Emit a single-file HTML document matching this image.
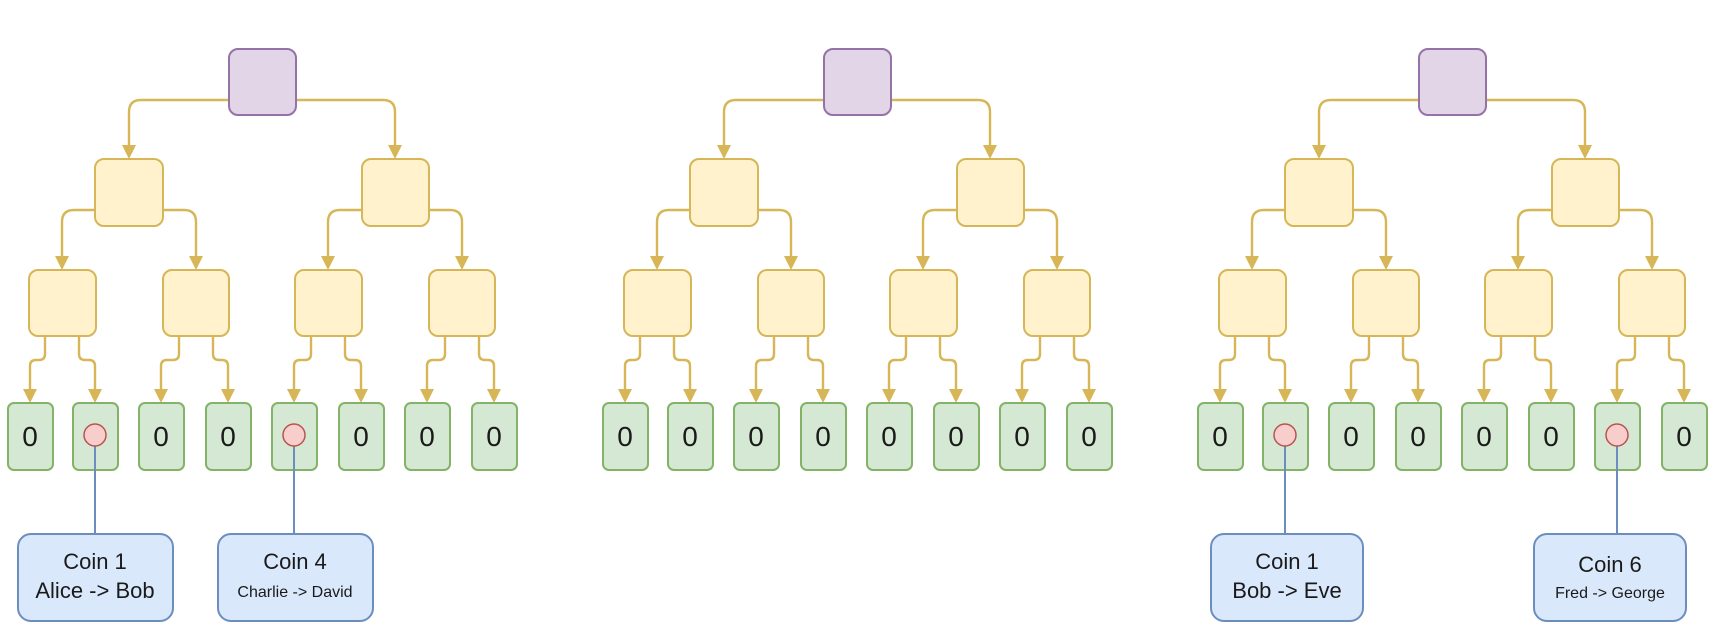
<!DOCTYPE html>
<html><head><meta charset="utf-8"><style>
html,body{margin:0;padding:0;background:#fff;width:1725px;height:643px;overflow:hidden}
text{font-family:"Liberation Sans",sans-serif;fill:#1a1a1a}
</style></head><body>
<svg width="1725" height="643" viewBox="0 0 1725 643" xmlns="http://www.w3.org/2000/svg">
<defs>
<g id="tree">
 <g fill="none" stroke="#d6b656" stroke-width="2.4">
  <path d="M229,100 H141 Q129,100 129,112 V148"/>
  <path d="M296,100 H383 Q395,100 395,112 V148"/>
  <path d="M95,210 H74 Q62,210 62,222 V258"/>
  <path d="M163,210 H184 Q196,210 196,222 V258"/>
  <path d="M362,210 H340 Q328,210 328,222 V258"/>
  <path d="M429,210 H450 Q462,210 462,222 V258"/>
  <path d="M45,336 V354 Q45,360 39,360 H36 Q30,360 30,366 V392"/>
  <path d="M79,336 V354 Q79,360 85,360 H89 Q95,360 95,366 V392"/>
  <path d="M179,336 V354 Q179,360 173,360 H167 Q161,360 161,366 V392"/>
  <path d="M213,336 V354 Q213,360 219,360 H222 Q228,360 228,366 V392"/>
  <path d="M311,336 V354 Q311,360 305,360 H300 Q294,360 294,366 V392"/>
  <path d="M345,336 V354 Q345,360 351,360 H355 Q361,360 361,366 V392"/>
  <path d="M445,336 V354 Q445,360 439,360 H433 Q427,360 427,366 V392"/>
  <path d="M479,336 V354 Q479,360 485,360 H488 Q494,360 494,366 V392"/>
 </g>
 <g fill="#d6b656">
  <polygon points="122,145 136,145 129,159"/>
  <polygon points="388,145 402,145 395,159"/>
  <polygon points="55,256 69,256 62,270"/>
  <polygon points="189,256 203,256 196,270"/>
  <polygon points="321,256 335,256 328,270"/>
  <polygon points="455,256 469,256 462,270"/>
  <polygon points="23,389 37,389 30,403"/>
  <polygon points="88,389 102,389 95,403"/>
  <polygon points="154,389 168,389 161,403"/>
  <polygon points="221,389 235,389 228,403"/>
  <polygon points="287,389 301,389 294,403"/>
  <polygon points="354,389 368,389 361,403"/>
  <polygon points="420,389 434,389 427,403"/>
  <polygon points="487,389 501,389 494,403"/>
 </g>
 <rect x="229" y="49" width="67" height="66" rx="9" fill="#e1d5e7" stroke="#9673a6" stroke-width="2"/>
 <g fill="#fff2cc" stroke="#d6b656" stroke-width="2">
  <rect x="95" y="159" width="68" height="67" rx="9"/>
  <rect x="362" y="159" width="67" height="67" rx="9"/>
  <rect x="29" y="270" width="67" height="66" rx="9"/>
  <rect x="163" y="270" width="66" height="66" rx="9"/>
  <rect x="295" y="270" width="67" height="66" rx="9"/>
  <rect x="429" y="270" width="66" height="66" rx="9"/>
 </g>
 <g fill="#d5e8d4" stroke="#82b366" stroke-width="2">
  <rect x="8" y="403" width="45" height="67" rx="6"/>
  <rect x="73" y="403" width="45" height="67" rx="6"/>
  <rect x="139" y="403" width="45" height="67" rx="6"/>
  <rect x="206" y="403" width="45" height="67" rx="6"/>
  <rect x="272" y="403" width="45" height="67" rx="6"/>
  <rect x="339" y="403" width="45" height="67" rx="6"/>
  <rect x="405" y="403" width="45" height="67" rx="6"/>
  <rect x="472" y="403" width="45" height="67" rx="6"/>
 </g>
</g>
</defs>

<use href="#tree" x="0" y="0"/>
<use href="#tree" x="595" y="0"/>
<use href="#tree" x="1190" y="0"/>

<g font-size="28" text-anchor="middle">
 <text x="30" y="446">0</text>
 <text x="161" y="446">0</text>
 <text x="228" y="446">0</text>
 <text x="361" y="446">0</text>
 <text x="427" y="446">0</text>
 <text x="494" y="446">0</text>

 <text x="625" y="446">0</text>
 <text x="690" y="446">0</text>
 <text x="756" y="446">0</text>
 <text x="823" y="446">0</text>
 <text x="889" y="446">0</text>
 <text x="956" y="446">0</text>
 <text x="1022" y="446">0</text>
 <text x="1089" y="446">0</text>

 <text x="1220" y="446">0</text>
 <text x="1351" y="446">0</text>
 <text x="1418" y="446">0</text>
 <text x="1484" y="446">0</text>
 <text x="1551" y="446">0</text>
 <text x="1684" y="446">0</text>
</g>

<g stroke="#6c8ebf" stroke-width="2">
 <line x1="95" y1="435" x2="95" y2="534"/>
 <line x1="294" y1="435" x2="294" y2="534"/>
 <line x1="1285" y1="435" x2="1285" y2="534"/>
 <line x1="1617" y1="435" x2="1617" y2="534"/>
</g>
<g fill="#f8cecc" stroke="#b85450" stroke-width="1.5">
 <circle cx="95" cy="435" r="11"/>
 <circle cx="294" cy="435" r="11"/>
 <circle cx="1285" cy="435" r="11"/>
 <circle cx="1617" cy="435" r="11"/>
</g>

<g fill="#dae8fc" stroke="#6c8ebf" stroke-width="2">
 <rect x="18" y="534" width="155" height="87" rx="13"/>
 <rect x="218" y="534" width="155" height="87" rx="13"/>
 <rect x="1211" y="534" width="152" height="87" rx="13"/>
 <rect x="1534" y="534" width="152" height="87" rx="13"/>
</g>
<g text-anchor="middle">
 <text x="95" y="569" font-size="22">Coin 1</text>
 <text x="95" y="598" font-size="22">Alice -&gt; Bob</text>
 <text x="295" y="569" font-size="22">Coin 4</text>
 <text x="295" y="597" font-size="16">Charlie -&gt; David</text>
 <text x="1287" y="569" font-size="22">Coin 1</text>
 <text x="1287" y="598" font-size="22">Bob -&gt; Eve</text>
 <text x="1610" y="572" font-size="22">Coin 6</text>
 <text x="1610" y="598" font-size="16">Fred -&gt; George</text>
</g>
</svg>
</body></html>
